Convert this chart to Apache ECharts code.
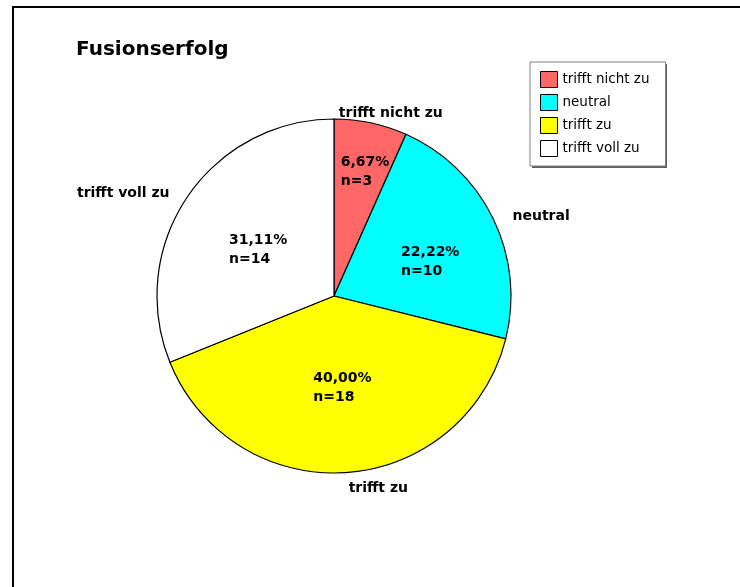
<!DOCTYPE html>
<html>
<head>
    <meta charset="UTF-8">
    <title>Fusionserfolg</title>
    <script src="https://cdn.jsdelivr.net/npm/echarts@6/dist/echarts.min.js"></script>
    <style>
        html, body { margin: 0; padding: 0; background: #fff; }
        #chart { width: 740px; height: 587px; }
    </style>
</head>
<body>
<div id="chart"></div>
<script>
    // Daten
    var categories = ['trifft nicht zu', 'neutral', 'trifft zu', 'trifft voll zu'];
    var counts = [3, 10, 18, 14];
    var percents = ['6,67%', '22,22%', '40,00%', '31,11%'];
    var colors = ['#ff6666', '#00ffff', '#ffff00', '#ffffff'];

    // Verschiebung der Beschriftungen (Excel setzt sie etwas anders als ECharts)
    var innerShift = [[12, -35], [14, 6], [2, 1], [0, 5]];
    var outerShift = [[20, -10], [48, -2], [32, 16], [-64, -4]];

    var pieCenter = [334, 296];
    var pieRadius = 177;
    var labelFont = 'DejaVu Sans';

    var data = categories.map(function (name, i) {
        return { name: name, value: counts[i], itemStyle: { color: colors[i] } };
    });

    var myChart = echarts.init(document.getElementById('chart'));
    var option = {
        backgroundColor: '#fff',
        animation: false,
        graphic: [{
            type: 'rect',
            shape: { x: 13, y: 7, width: 800, height: 700 },
            style: { fill: 'none', stroke: '#000', lineWidth: 2 },
            silent: true,
            z: 100
        }, {
            // Schatten der Legende
            type: 'rect',
            shape: { x: 532, y: 64, width: 135, height: 104 },
            style: { fill: '#606060' },
            silent: true,
            z: 1
        }],
        title: {
            text: 'Fusionserfolg',
            left: 76,
            top: 40,
            padding: 0,
            textStyle: { fontFamily: labelFont, fontSize: 20, fontWeight: 'bold', color: '#000' }
        },
        legend: {
            orient: 'vertical',
            left: 530,
            top: 62,
            padding: [9, 16, 9, 10],
            itemWidth: 17,
            itemHeight: 16,
            itemGap: 6,
            icon: 'rect',
            data: categories,
            borderColor: '#808080',
            borderWidth: 1,
            backgroundColor: '#fff',
            z: 5,
            itemStyle: { borderColor: '#000', borderWidth: 1 },
            textStyle: { fontFamily: labelFont, fontSize: 13.5, color: '#000' },
            selectedMode: false
        },
        series: [{
            // Tortenstuecke mit Prozent und n
            name: 'Fusionserfolg',
            type: 'pie',
            center: pieCenter,
            radius: pieRadius,
            startAngle: 90,
            clockwise: true,
            silent: true,
            itemStyle: { borderColor: '#000', borderWidth: 1.2 },
            label: {
                show: true,
                position: 'inside',
                fontFamily: labelFont,
                fontSize: 14,
                fontWeight: 'bold',
                color: '#000',
                lineHeight: 19,
                formatter: function (p) {
                    return percents[p.dataIndex] + '\nn=' + counts[p.dataIndex];
                }
            },
            labelLayout: function (p) {
                var s = innerShift[p.dataIndex];
                var r = p.labelRect;
                return {
                    x: r.x + s[0],
                    y: r.y + r.height / 2 + s[1],
                    align: 'left',
                    verticalAlign: 'middle'
                };
            },
            data: data
        }, {
            // nur Kategorienamen aussen
            name: 'Namen',
            type: 'pie',
            center: pieCenter,
            radius: pieRadius,
            startAngle: 90,
            clockwise: true,
            silent: true,
            avoidLabelOverlap: false,
            itemStyle: { color: 'transparent', borderWidth: 0 },
            label: {
                show: true,
                position: 'outside',
                fontFamily: labelFont,
                fontSize: 14,
                fontWeight: 'bold',
                color: '#000',
                formatter: '{b}'
            },
            labelLine: { show: true, length: 0, length2: 0, lineStyle: { opacity: 0 } },
            labelLayout: function (p) {
                var s = outerShift[p.dataIndex];
                var e;
                if (p.labelLinePoints && p.labelLinePoints.length) {
                    e = p.labelLinePoints[0];
                } else {
                    e = [p.labelRect.x + p.labelRect.width / 2, p.labelRect.y + p.labelRect.height / 2];
                }
                return {
                    x: e[0] + s[0],
                    y: e[1] + s[1],
                    align: 'center',
                    verticalAlign: 'middle'
                };
            },
            data: categories.map(function (name, i) {
                return { name: name, value: counts[i] };
            })
        }]
    };
    myChart.setOption(option);
</script>
</body>
</html>
